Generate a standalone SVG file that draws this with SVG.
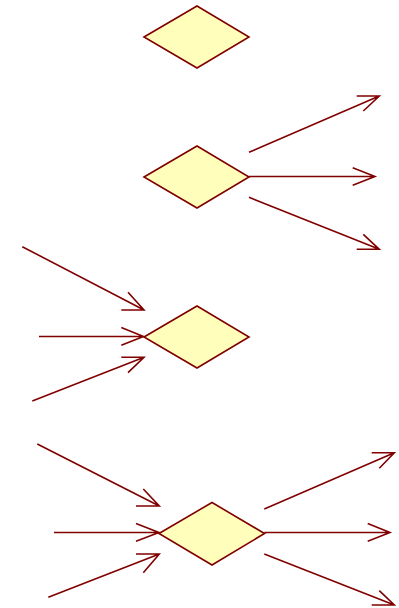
<svg xmlns="http://www.w3.org/2000/svg" width="399" height="608" viewBox="0 0 399 608">
  <style>
    .node { fill: #FFFFBB; stroke: #800000; stroke-width: 1.6; stroke-linejoin: miter; }
    .edge { fill: none; stroke: #800000; stroke-width: 1.6; stroke-linecap: butt; }
  </style>
  <rect width="399" height="608" fill="#FFFFFF"/>

  <!-- decision / merge diamonds -->
  <g id="n1"><polygon class="node" points="144,37 197,6 249,37 197,68"/></g>
  <g id="n2"><polygon class="node" points="144,177 197,146 249,177 197,208"/></g>
  <g id="n3"><polygon class="node" points="144,337 197,306 249,337 197,368"/></g>
  <g id="n4"><polygon class="node" points="159,533.5 212,502.5 264.5,533.5 212,565"/></g>

  <g id="edges">
    <!-- n2 outgoing -->
    <path class="edge" d="M249,152.3 L379.3,96 M356.7,96 L379.3,96 L363.3,111"/>
    <path class="edge" d="M249,176.5 L375,176.5 M352.7,167.7 L375,176.5 L352.7,185.3"/>
    <path class="edge" d="M249,197.3 L379.3,249.3 M356.7,249.3 L379.3,249.3 L363.3,234.3"/>

    <!-- n3 incoming -->
    <path class="edge" d="M22.3,246.7 L144,310 M121.3,310 L144,310 L128,292.3"/>
    <path class="edge" d="M39,336.5 L143.5,336.5 M121.3,327.5 L143.5,336.5 L121.3,345.3"/>
    <path class="edge" d="M32.3,401 L144,357.3 M121.3,357.3 L144,357.3 L128,372.7"/>

    <!-- n4 incoming -->
    <path class="edge" d="M37.3,444 L159.3,506 M136,506 L159.3,506 L143.3,489"/>
    <path class="edge" d="M54,532.5 L159,532.5 M136,523.5 L159,532.5 L136,541.3"/>
    <path class="edge" d="M48.3,597.3 L159.3,554 M136,554 L159.3,554 L143.3,572.7"/>

    <!-- n4 outgoing -->
    <path class="edge" d="M264.3,509 L394.3,452.7 M371.7,452.7 L394.3,452.7 L379.3,468.3"/>
    <path class="edge" d="M264.3,532.5 L390,532.5 M367.7,523.5 L390,532.5 L367.7,541.3"/>
    <path class="edge" d="M264.3,554 L394.3,605 M371.7,605 L394.3,605 L379.3,590.7"/>
  </g>
</svg>
